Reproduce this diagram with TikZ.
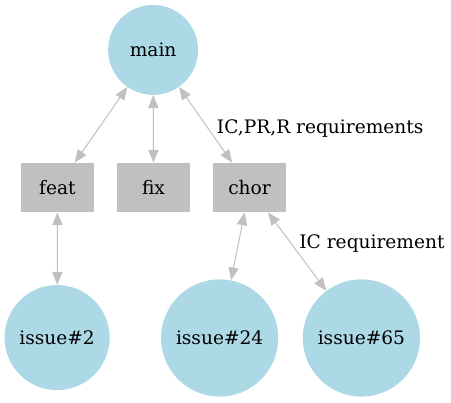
\documentclass[tikz,border=0pt]{standalone}
\usepackage{fontspec}
\setmainfont{DejaVu Serif}
\usepackage{xcolor}
\usepackage{tikz}
\usetikzlibrary{arrows.meta, positioning}
\definecolor{gvblue}{HTML}{ADD8E6}
\definecolor{gvgray}{HTML}{C0C0C0}
\tikzset{
  brnode/.style={circle,fill=gvblue,inner sep=0pt,font=\fontsize{14}{16}\selectfont},
  mainnode/.style={brnode,minimum size=2.38cm},
  issnode/.style={brnode,minimum size=3.10cm},
  typnode/.style={rectangle,fill=gvgray,minimum width=1.93cm,minimum height=1.30cm,inner sep=0pt,font=\fontsize{14}{16}\selectfont},
  linkedge/.style={{Triangle[length=3.4mm,width=2.7mm]}-{Triangle[length=3.4mm,width=2.7mm]},line width=0.75pt,gvgray},
  elabel/.style={inner sep=0pt,font=\fontsize{14}{16}\selectfont},
}
\begin{document}
\begin{tikzpicture}
  \useasboundingbox (0,0) rectangle (11.93,-10.64);
  \node[mainnode] (nMain) at (4.05,-1.32) {main};
  \node[typnode] (nFeat) at (1.52,-4.96) {feat};
  \node[typnode] (nFix) at (4.06,-4.96) {fix};
  \node[typnode] (nChor) at (6.60,-4.96) {chor};
  \node[brnode,minimum size=2.78cm] (nIss2) at (1.51,-8.93) {issue\#2};
  \node[issnode] (nIss24) at (5.81,-8.94) {issue\#24};
  \node[issnode] (nIss65) at (9.56,-8.94) {issue\#65};
  \draw[linkedge] (nMain) -- (nFeat);
  \draw[linkedge] (nMain) -- (nFix);
  \draw[linkedge] (nMain) -- (nChor);
  \draw[linkedge] (nFeat) -- (nIss2);
  \draw[linkedge] (nChor) -- (nIss24);
  \draw[linkedge] (nChor) -- (nIss65);
  \node[elabel] (lChor) at (8.47,-3.40) {IC,PR,R requirements};
  \node[elabel] (lIss65) at (9.84,-6.44) {IC requirement};
\end{tikzpicture}
\end{document}
